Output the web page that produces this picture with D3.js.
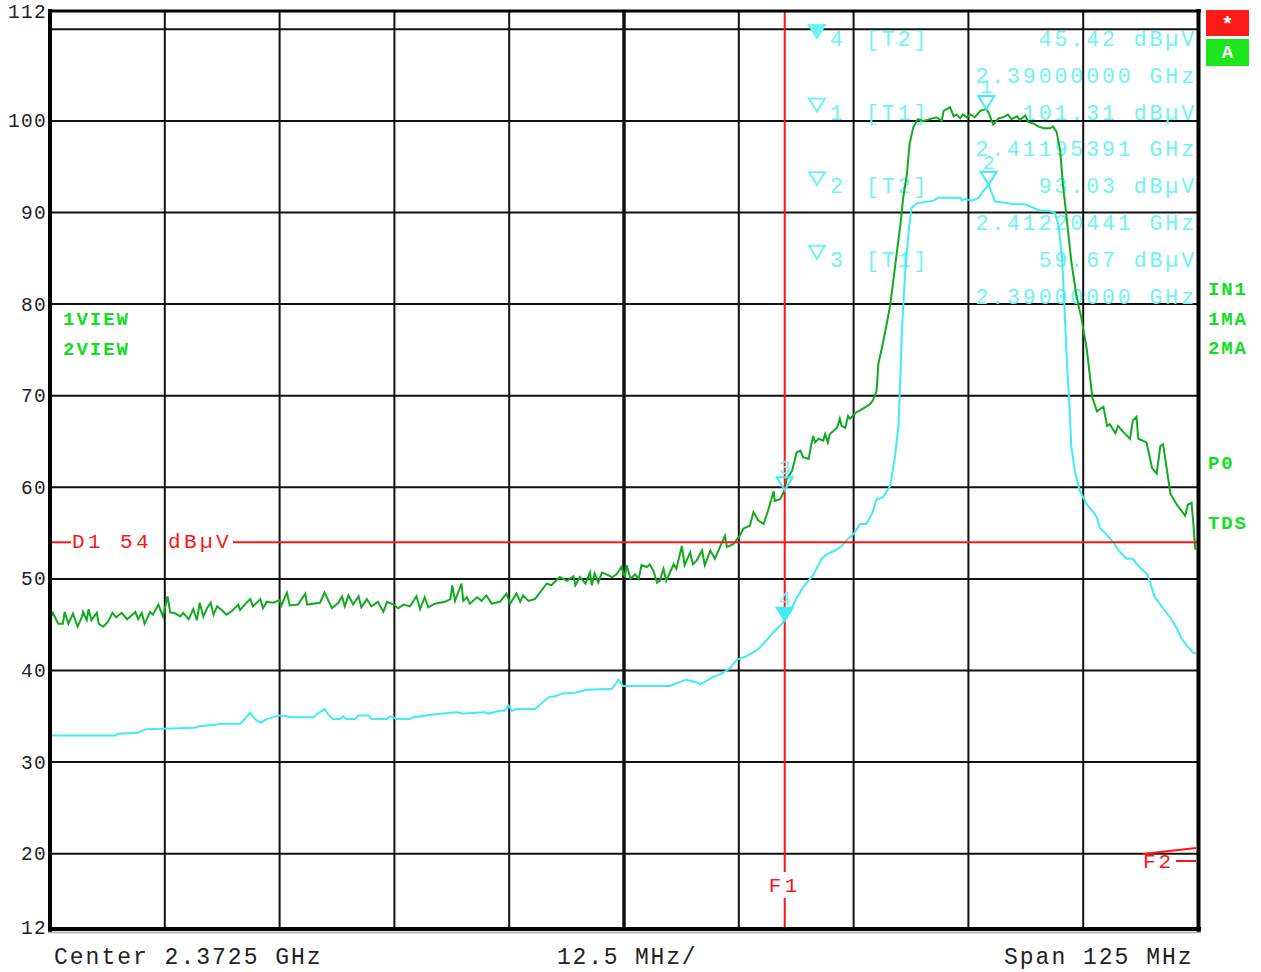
<!DOCTYPE html>
<meta charset="utf-8">
<head>
    <title>Spectrum 2.3725 GHz</title>
    <style>
        body { margin: 0; background: #fff; }
        text { font-family: "Liberation Mono", "DejaVu Sans Mono", monospace; }
    </style>
</head>
<body>
<script src="https://d3js.org/d3.v7.min.js"></script>
<script>
// sweep settings (MHz) and level range (dBuV)
var startMHz = 2310, stopMHz = 2435;
var refTop = 112, refBottom = 12;

var yGridLevels = [110, 100, 90, 80, 70, 60, 50, 40, 30, 20];
var yTickLabels = [112, 100, 90, 80, 70, 60, 50, 40, 30, 20, 12];
var xGridMHz = [2322.5, 2335, 2347.5, 2360, 2372.5, 2385, 2397.5, 2410, 2422.5];

// trace 1 (max hold, green) [MHz, dBuV]
var trace1 = [[2310.0,45.7],[2310.3,46.3],[2310.9,45.1],[2311.4,45.1],[2311.6,46.4],[2312.0,45.1],[2312.5,46.2],[2313.0,44.8],[2313.5,45.9],[2313.6,46.4],[2314.0,45.5],[2314.2,46.7],[2314.5,45.5],[2315.1,46.3],[2315.3,45.1],[2315.8,44.8],[2316.3,45.3],[2316.8,46.3],[2317.2,45.8],[2317.8,46.3],[2318.4,45.6],[2319.3,46.4],[2319.6,45.6],[2320.0,46.3],[2320.3,45.1],[2320.9,46.4],[2321.2,46.1],[2321.8,47.2],[2322.3,45.9],[2322.8,48.1],[2323.1,46.3],[2323.5,46.3],[2324.2,45.9],[2324.5,46.3],[2325.1,45.6],[2325.6,46.7],[2326.0,45.5],[2326.3,47.4],[2326.7,45.9],[2327.1,46.8],[2327.5,47.4],[2327.8,46.1],[2328.2,47.0],[2328.7,46.6],[2329.2,46.1],[2329.8,46.5],[2330.5,47.2],[2330.7,46.6],[2331.2,47.2],[2331.8,47.8],[2332.1,47.0],[2332.9,47.8],[2333.2,46.8],[2333.6,47.5],[2334.3,47.4],[2335.0,47.7],[2335.2,47.1],[2335.8,48.5],[2336.1,47.1],[2337.0,47.2],[2337.8,48.4],[2338.0,47.2],[2339.4,47.4],[2339.9,48.5],[2340.7,46.8],[2341.4,47.4],[2341.8,48.1],[2342.1,47.0],[2342.5,48.2],[2343.0,47.2],[2343.6,48.1],[2343.9,46.9],[2344.5,47.8],[2345.0,47.0],[2345.7,47.5],[2346.3,46.4],[2346.7,47.5],[2347.4,47.2],[2347.9,46.8],[2348.5,47.2],[2349.2,47.0],[2349.9,48.1],[2350.3,46.7],[2350.8,48.0],[2351.2,46.9],[2351.9,47.3],[2353.0,47.5],[2353.6,47.8],[2353.8,49.3],[2354.1,47.6],[2354.8,49.5],[2355.0,47.6],[2355.4,48.0],[2355.7,47.3],[2356.5,48.0],[2357.0,47.6],[2357.5,48.2],[2358.1,47.3],[2359.0,47.5],[2359.7,48.4],[2360.1,47.3],[2360.8,48.4],[2361.2,47.5],[2361.5,48.2],[2362.1,47.6],[2362.8,47.8],[2364.1,49.5],[2364.6,49.3],[2365.5,50.2],[2366.3,49.8],[2367.0,50.3],[2367.2,49.3],[2367.7,50.2],[2368.3,49.5],[2368.8,50.7],[2369.0,49.3],[2369.3,50.6],[2369.7,49.6],[2370.1,50.7],[2370.6,50.5],[2371.2,50.2],[2371.7,50.5],[2372.2,51.3],[2372.6,50.2],[2372.8,51.5],[2373.2,50.0],[2373.7,50.5],[2374.1,50.0],[2374.4,51.5],[2375.0,51.3],[2375.3,51.6],[2375.7,50.9],[2376.1,49.6],[2376.4,49.8],[2376.8,51.1],[2377.1,49.8],[2377.9,51.6],[2378.2,51.1],[2378.8,53.6],[2379.1,51.5],[2379.7,52.9],[2380.0,51.6],[2380.4,52.0],[2381.0,53.1],[2381.3,51.5],[2381.9,53.1],[2382.4,52.2],[2383.0,53.6],[2383.5,54.7],[2383.7,53.5],[2384.4,53.8],[2385.1,54.7],[2385.5,55.5],[2386.2,55.8],[2386.6,57.3],[2387.1,56.4],[2387.7,56.0],[2388.2,57.5],[2388.8,59.6],[2388.9,58.5],[2389.5,58.7],[2390.0,59.7],[2390.2,60.9],[2390.8,61.8],[2391.3,63.8],[2391.7,64.0],[2392.0,63.3],[2392.6,63.1],[2392.9,64.7],[2393.1,65.6],[2393.3,64.9],[2393.7,65.3],[2394.2,65.1],[2394.4,65.8],[2394.7,64.9],[2394.9,65.8],[2395.7,66.5],[2396.0,67.5],[2396.2,66.7],[2396.6,66.5],[2396.9,67.8],[2397.1,67.5],[2397.8,68.2],[2398.2,68.4],[2398.7,68.7],[2399.3,69.1],[2399.6,69.5],[2400.0,70.5],[2400.2,73.5],[2400.6,75.3],[2401.1,77.8],[2401.5,80.0],[2402.0,84.0],[2402.6,88.7],[2402.9,91.6],[2403.3,94.2],[2403.6,97.5],[2404.0,99.3],[2404.5,100.2],[2405.1,100.0],[2405.8,100.2],[2406.5,100.4],[2407.1,100.0],[2407.3,101.1],[2408.0,101.5],[2408.4,100.5],[2408.7,100.7],[2409.1,100.3],[2409.4,100.7],[2409.8,100.4],[2410.2,100.7],[2410.7,100.4],[2411.3,101.1],[2411.95,101.31],[2412.2,100.9],[2412.7,99.6],[2413.3,100.3],[2413.8,100.4],[2414.3,100.7],[2414.7,100.2],[2415.3,100.5],[2415.6,100.1],[2416.2,100.6],[2416.5,99.9],[2417.1,99.7],[2417.6,99.4],[2418.2,99.2],[2418.9,99.2],[2419.2,99.4],[2419.6,98.8],[2420.0,96.7],[2420.3,93.0],[2420.7,89.4],[2421.2,84.7],[2421.8,80.7],[2422.3,78.5],[2422.9,75.0],[2423.5,69.8],[2424.0,68.3],[2424.7,68.8],[2425.1,66.7],[2425.4,66.9],[2426.0,65.9],[2426.3,66.7],[2426.8,66.1],[2427.6,65.3],[2427.9,67.3],[2428.3,67.7],[2428.5,65.3],[2429.4,64.9],[2430.0,62.1],[2430.5,61.5],[2430.9,64.5],[2431.2,64.7],[2432.0,59.3],[2432.7,58.1],[2433.6,56.9],[2433.9,58.1],[2434.3,58.3],[2434.5,56.0],[2434.7,53.2]];

// trace 2 (cyan) [MHz, dBuV]
var trace2 = [[2310.0,32.9],[2317.1,32.9],[2317.4,33.1],[2319.6,33.2],[2320.0,33.4],[2320.5,33.6],[2325.8,33.75],[2326.1,33.9],[2328.2,34.1],[2328.5,34.2],[2330.7,34.2],[2331.2,34.7],[2331.8,35.4],[2332.3,34.7],[2332.9,34.3],[2333.6,34.7],[2335.0,35.1],[2336.5,34.9],[2338.7,34.9],[2339.0,35.2],[2339.9,35.8],[2340.3,35.2],[2340.8,34.7],[2341.6,34.7],[2341.9,35.0],[2342.3,34.7],[2343.2,34.7],[2343.6,35.1],[2344.7,35.1],[2345.0,34.7],[2346.7,34.7],[2347.0,35.0],[2347.4,34.9],[2347.7,34.7],[2349.2,34.7],[2349.6,34.9],[2351.7,35.2],[2354.3,35.45],[2355.0,35.3],[2357.4,35.45],[2357.7,35.3],[2359.0,35.6],[2359.5,35.6],[2359.9,36.2],[2360.3,35.6],[2360.8,35.8],[2362.8,35.8],[2364.3,37.1],[2365.0,37.2],[2365.9,37.5],[2367.3,37.6],[2368.4,37.9],[2371.2,38.0],[2371.9,39.0],[2372.4,38.3],[2377.5,38.3],[2377.9,38.5],[2379.3,39.0],[2380.4,38.7],[2380.8,38.5],[2381.5,38.9],[2382.2,39.3],[2383.0,39.6],[2384.0,40.2],[2384.8,41.2],[2385.7,41.5],[2386.6,42.0],[2387.3,42.5],[2388.2,43.5],[2388.8,44.2],[2390.0,45.42],[2390.6,46.5],[2391.3,47.9],[2392.0,49.1],[2393.1,50.4],[2394.0,52.2],[2394.6,52.7],[2395.5,53.1],[2396.2,53.6],[2396.9,54.4],[2397.5,54.9],[2398.2,56.0],[2398.9,56.0],[2399.5,57.1],[2400.0,58.7],[2400.7,58.9],[2401.5,60.2],[2402.0,63.3],[2402.4,66.9],[2402.6,72.4],[2402.8,77.8],[2403.1,83.3],[2403.5,88.0],[2403.8,90.5],[2404.4,91.0],[2406.2,91.3],[2406.7,91.6],[2409.1,91.6],[2409.3,91.3],[2409.6,91.5],[2410.4,91.3],[2411.1,91.6],[2411.5,92.2],[2412.2,93.03],[2412.6,92.0],[2412.9,91.2],[2414.2,91.05],[2414.9,90.9],[2416.2,90.9],[2417.1,90.5],[2417.8,90.2],[2418.7,90.2],[2419.4,90.0],[2419.8,88.7],[2420.2,85.1],[2420.4,81.0],[2420.7,74.2],[2421.0,69.0],[2421.2,64.5],[2421.6,61.7],[2422.1,59.7],[2422.9,58.1],[2423.6,57.3],[2424.0,56.7],[2424.3,55.6],[2424.9,55.0],[2425.8,54.0],[2426.3,53.2],[2427.2,52.2],[2427.9,52.2],[2428.7,51.2],[2429.4,50.6],[2429.8,49.6],[2430.3,48.0],[2431.2,46.8],[2432.1,45.6],[2432.7,44.6],[2433.2,43.5],[2433.8,42.7],[2434.5,41.9],[2434.8,41.9]];

// markers (table order) and display line
var markerIds = ["4", "1", "2", "3"];
var markerTraces = ["[T2]", "[T1]", "[T2]", "[T1]"];
var markerFreqMHz = [2390.0, 2411.95391, 2412.20441, 2390.0];
var markerLevels = [45.42, 101.31, 93.03, 59.67];
var markerLevelText = ["45.42 dBµV", "101.31 dBµV", "93.03 dBµV", "59.67 dBµV"];
var markerFreqText = ["2.39000000 GHz", "2.41195391 GHz", "2.41220441 GHz", "2.39000000 GHz"];
var displayLine = 54;
var f1MHz = 2390;

var leftLabels = ["1VIEW", "2VIEW"];
var rightLabels = ["IN1", "1MA", "2MA", "P0", "TDS"];
var footer = ["Center 2.3725 GHz", "12.5 MHz/", "Span 125 MHz"];

var W = 1261, H = 972;
var GREEN_TRACE = "#12aa22", CYAN_TRACE = "#40ecf2", CYAN_TEXT = "#6ef3f3";
var RED = "#ff1414", LABEL_GREEN = "#0ee01e";

var svg = d3.select("body").append("svg")
    .attr("width", W).attr("height", H)
    .style("background", "#fff");

var x = d3.scaleLinear().domain([startMHz, stopMHz]).range([50, 1198]);
var y = d3.scaleLinear().domain([refBottom, refTop]).range([927, 11]);

// monospaced text on a fixed character cell
function mono(g, str, px, py, size, cell, color, weight) {
    return g.append("text")
        .attr("x", px).attr("y", py)
        .style("font-size", size + "px")
        .style("letter-spacing", (cell - 0.6 * size) + "px")
        .style("font-weight", weight || "normal")
        .attr("fill", color)
        .text(str);
}

// grid
var grid = svg.append("g");
grid.selectAll("line.h").data(yGridLevels).enter().append("line")
    .attr("x1", 50).attr("x2", 1198)
    .attr("y1", function (d) { return y(d); }).attr("y2", function (d) { return y(d); })
    .attr("stroke", "#111").attr("stroke-width", 2);
grid.selectAll("line.v").data(xGridMHz).enter().append("line")
    .attr("x1", function (d) { return x(d); }).attr("x2", function (d) { return x(d); })
    .attr("y1", 11).attr("y2", 927)
    .attr("stroke", "#111")
    .attr("stroke-width", function (d) { return d === 2372.5 ? 3.5 : 2; });

// y labels
yTickLabels.forEach(function (v) {
    var s = String(v);
    mono(svg, s, 47 - s.length * 13, y(v) + 6.5, 19.5, 13, "#222");
});

// marker table (drawn under the traces)
var table = svg.append("g");
markerIds.forEach(function (id, i) {
    var b1 = 46 + i * 73.6, b2 = b1 + 36.8;
    var top = b1 - 21, apex = b1 - 8;
    table.append("path")
        .attr("d", "M809," + top + "L825," + top + "L817," + apex + "Z")
        .attr("fill", i === 0 ? CYAN_TEXT : "none")
        .attr("stroke", CYAN_TEXT).attr("stroke-width", 2);
    mono(table, id, 830, b1, 21.5, 15.83, CYAN_TEXT);
    mono(table, markerTraces[i], 866, b1, 21.5, 15.83, CYAN_TEXT);
    mono(table, markerLevelText[i], 1197 - markerLevelText[i].length * 15.83, b1, 21.5, 15.83, CYAN_TEXT);
    mono(table, markerFreqText[i], 1197 - markerFreqText[i].length * 15.83, b2, 21.5, 15.83, CYAN_TEXT);
});

// traces
svg.append("clipPath").attr("id", "plot").append("rect")
    .attr("x", 50).attr("y", 11).attr("width", 1148).attr("height", 916);
var line = d3.line()
    .x(function (d) { return x(d[0]); })
    .y(function (d) { return y(d[1]); });
var traces = svg.append("g").attr("clip-path", "url(#plot)");
traces.append("path").datum(trace2).attr("d", line)
    .attr("fill", "none").attr("stroke", CYAN_TRACE).attr("stroke-width", 2);
traces.append("path").datum(trace1).attr("d", line)
    .attr("fill", "none").attr("stroke", GREEN_TRACE).attr("stroke-width", 2);

// display line D1
var yd = y(displayLine);
svg.append("line").attr("x1", 50).attr("x2", 71).attr("y1", yd).attr("y2", yd)
    .attr("stroke", RED).attr("stroke-width", 2);
svg.append("line").attr("x1", 233).attr("x2", 1197).attr("y1", yd).attr("y2", yd)
    .attr("stroke", RED).attr("stroke-width", 2);
mono(svg, "D1 54 dBµV", 72, yd + 6, 21, 16, RED);

// frequency line F1
var xf = x(f1MHz);
svg.append("line").attr("x1", xf).attr("x2", xf).attr("y1", 11).attr("y2", 872)
    .attr("stroke", RED).attr("stroke-width", 2);
svg.append("line").attr("x1", xf).attr("x2", xf).attr("y1", 898).attr("y2", 927)
    .attr("stroke", RED).attr("stroke-width", 2);
mono(svg, "F1", xf - 16, 892, 21, 16, RED);

// F2 indicator at the right edge
svg.append("line").attr("x1", 1143).attr("y1", 854).attr("x2", 1196).attr("y2", 848)
    .attr("stroke", RED).attr("stroke-width", 2);
mono(svg, "F2", 1143, 868, 21, 15.5, RED);
svg.append("line").attr("x1", 1176).attr("x2", 1196).attr("y1", 861).attr("y2", 861)
    .attr("stroke", RED).attr("stroke-width", 2);

// markers on traces
var mk = svg.append("g");
markerIds.forEach(function (id, i) {
    var mx = x(markerFreqMHz[i]), my = y(markerLevels[i]);
    mk.append("path")
        .attr("d", "M" + (mx - 8) + "," + (my - 13) + "L" + (mx + 8) + "," + (my - 13) + "L" + mx + "," + my + "Z")
        .attr("fill", i === 0 ? CYAN_TRACE : "none")
        .attr("stroke", CYAN_TRACE).attr("stroke-width", 2);
    mk.append("text").attr("x", mx).attr("y", my - 16)
        .attr("text-anchor", "middle")
        .style("font-size", "20px")
        .attr("fill", CYAN_TEXT).text(id);
});

// frame
var frame = svg.append("g").attr("stroke", "#000");
frame.append("line").attr("x1", 48).attr("x2", 1201).attr("y1", 11).attr("y2", 11).attr("stroke-width", 3);
frame.append("line").attr("x1", 50).attr("x2", 50).attr("y1", 9).attr("y2", 932).attr("stroke-width", 4);
frame.append("line").attr("x1", 1198.5).attr("x2", 1198.5).attr("y1", 9).attr("y2", 932).attr("stroke-width", 4);
frame.append("line").attr("x1", 48).attr("x2", 1201).attr("y1", 929).attr("y2", 929).attr("stroke-width", 4);
frame.append("line").attr("x1", 48).attr("x2", 1201).attr("y1", 932.5).attr("y2", 932.5)
    .attr("stroke", "#aaa").attr("stroke-width", 1.5);

// status boxes
svg.append("rect").attr("x", 1206).attr("y", 10).attr("width", 43).attr("height", 26).attr("fill", "#ff1a1a");
svg.append("text").attr("x", 1227.5).attr("y", 31).attr("text-anchor", "middle")
    .style("font-size", "20px").style("font-weight", "bold").attr("fill", "#fff").text("*");
svg.append("rect").attr("x", 1206).attr("y", 39).attr("width", 43).attr("height", 27).attr("fill", "#1ee61e");
svg.append("text").attr("x", 1227.5).attr("y", 58).attr("text-anchor", "middle")
    .style("font-size", "19px").style("font-weight", "bold").attr("fill", "#fff").text("A");

// side labels
leftLabels.forEach(function (s, i) {
    mono(svg, s, 63, 325 + i * 30, 19, 13.4, LABEL_GREEN, "bold");
});
var rightY = [295, 325, 354, 469, 529];
rightLabels.forEach(function (s, i) {
    mono(svg, s, 1208, rightY[i], 19, 13.2, LABEL_GREEN, "bold");
});

// footer
mono(svg, footer[0], 54, 964, 23, 15.8, "#222");
mono(svg, footer[1], 557, 964, 23, 15.6, "#222");
mono(svg, footer[2], 1004, 964, 23, 15.8, "#222");
</script>
</body>
